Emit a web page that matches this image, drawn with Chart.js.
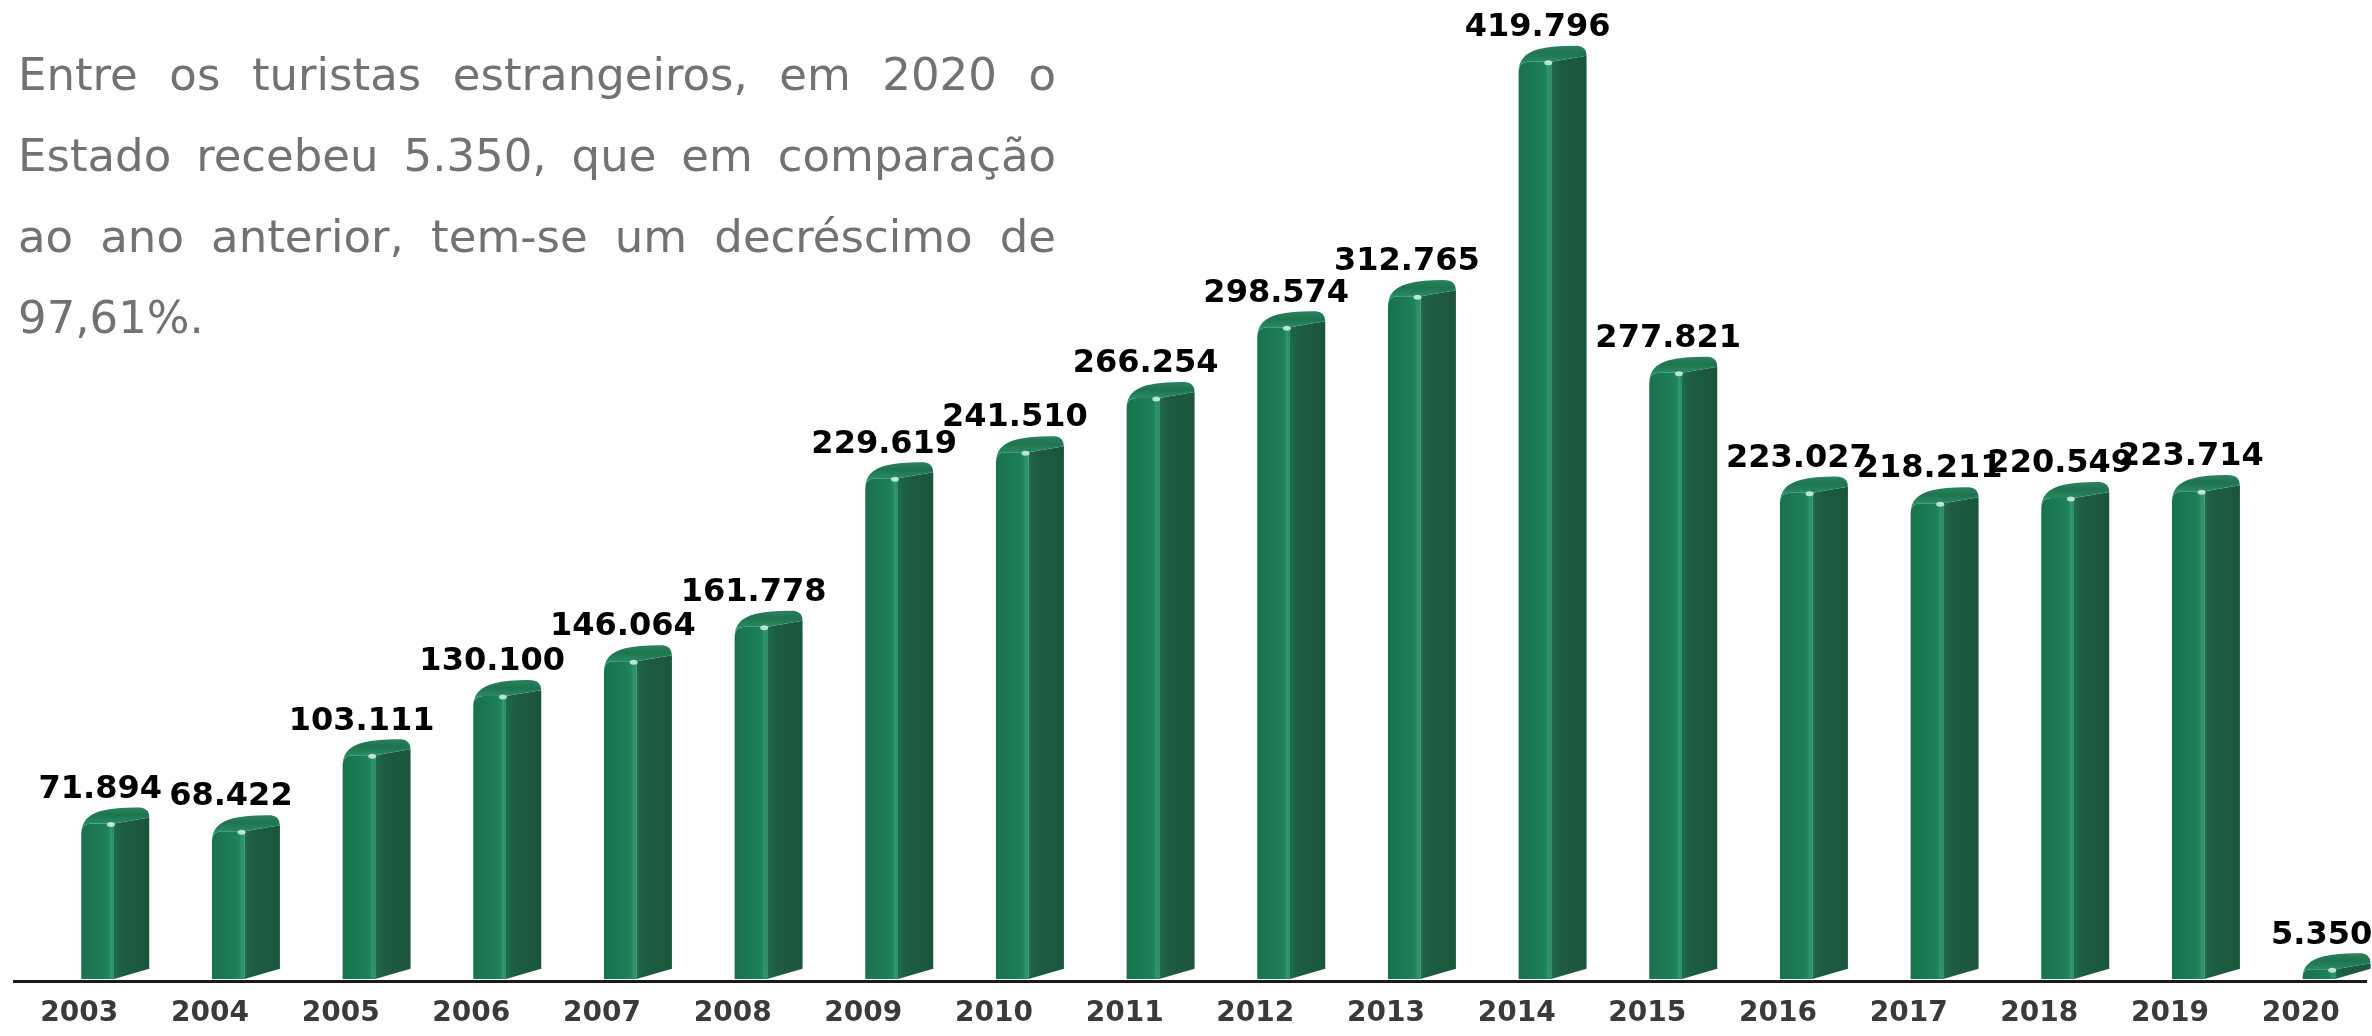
<!DOCTYPE html>
<html lang="pt-BR">
<head>
    <meta charset="UTF-8">
    <title>Turistas estrangeiros 2003-2020</title>
    <script src="https://cdn.jsdelivr.net/npm/chart.js"></script>
    <style>
        body {
            margin: 0;
            background: #fff;
            overflow: hidden;
        }
        .wrap {
            position: absolute;
            left: 0;
            top: 0;
            width: 2372px;
            height: 1036px;
        }
        .texto {
            position: absolute;
            left: 18px;
            top: 34px;
            width: 1038px;
            font-family: "DejaVu Sans", Verdana, sans-serif;
            font-size: 45px;
            line-height: 81px;
            color: #767171;
        }
        .texto .linha {
            text-align: justify;
            text-align-last: justify;
        }
        .texto .ultima {
            text-align-last: left;
        }
    </style>
</head>
<body>
    <div class="wrap">
        <canvas id="chart" width="2372" height="1036"></canvas>
        <div class="texto">
            <div class="linha">Entre os turistas estrangeiros, em 2020 o</div>
            <div class="linha">Estado recebeu 5.350, que em comparação</div>
            <div class="linha">ao ano anterior, tem-se um decréscimo de</div>
            <div class="linha ultima">97,61%.</div>
        </div>
    </div>

    <script>
        // dados
        const years = ['2003', '2004', '2005', '2006', '2007', '2008', '2009', '2010', '2011',
                       '2012', '2013', '2014', '2015', '2016', '2017', '2018', '2019', '2020'];
        const visitors = [71894, 68422, 103111, 130100, 146064, 161778, 229619, 241510, 266254,
                          298574, 312765, 419796, 277821, 223027, 218211, 220549, 223714, 5350];

        function fmt(n) {
            return String(n).replace(/\B(?=(\d{3})+(?!\d))/g, '.');
        }

        // draws a rounded "3D" column from the bar element geometry
        function draw3dBar(ctx, cx, top, bottom, w) {
            const L = cx - w / 2, R = cx + w / 2;
            const fw = w * 0.48;
            const F = L + fw;
            const d = w * 0.22;
            const db = w * 0.15;
            const r = Math.min(10, Math.max(3, (bottom - top) / 2 + 3));

            // side face
            let g = ctx.createLinearGradient(F, 0, R, 0);
            g.addColorStop(0, '#1f6a4a');
            g.addColorStop(0.25, '#1c5c41');
            g.addColorStop(1, '#1b553c');
            ctx.beginPath();
            ctx.moveTo(F, bottom);
            ctx.lineTo(R, bottom - db);
            ctx.lineTo(R, top - d + 9);
            ctx.lineTo(F, top);
            ctx.closePath();
            ctx.fillStyle = g;
            ctx.fill();

            // front face
            g = ctx.createLinearGradient(L, 0, F, 0);
            g.addColorStop(0, '#19714c');
            g.addColorStop(0.5, '#1b7a54');
            g.addColorStop(0.82, '#1f8259');
            g.addColorStop(0.93, '#2f9a6e');
            g.addColorStop(1, '#21805a');
            ctx.beginPath();
            ctx.moveTo(L, bottom);
            ctx.lineTo(L, top + r);
            ctx.quadraticCurveTo(L, top, L + r, top);
            ctx.lineTo(F, top);
            ctx.lineTo(F, bottom);
            ctx.closePath();
            ctx.fillStyle = g;
            ctx.fill();

            // top cap
            g = ctx.createLinearGradient(0, top + 2, 0, top - d - 2);
            g.addColorStop(0, '#2a9066');
            g.addColorStop(0.55, '#1e7450');
            g.addColorStop(1, '#2f8460');
            ctx.beginPath();
            ctx.moveTo(L, top + r);
            ctx.quadraticCurveTo(L, top - d * 0.5, L + w * 0.3, top - d * 0.85);
            ctx.quadraticCurveTo(L + w * 0.55, top - d * 1.1, R - 9, top - d - 1);
            ctx.quadraticCurveTo(R, top - d, R, top - d + 9);
            ctx.lineTo(F, top);
            ctx.lineTo(L + r, top);
            ctx.quadraticCurveTo(L, top, L, top + r);
            ctx.closePath();
            ctx.fillStyle = g;
            ctx.fill();

            // small specular spot
            ctx.beginPath();
            ctx.ellipse(F - 3, top + 1, 4, 2.5, 0, 0, Math.PI * 2);
            ctx.fillStyle = 'rgba(235,255,245,0.75)';
            ctx.fill();
        }

        const bar3d = {
            id: 'bar3d',
            afterDatasetsDraw(chart) {
                const ctx = chart.ctx;
                const meta = chart.getDatasetMeta(0);
                const step = chart.scales.x.width / years.length;
                const shift = step * 0.275;
                ctx.save();
                meta.data.forEach((bar, i) => {
                    const p = bar.getProps(['x', 'y', 'base', 'width'], true);
                    draw3dBar(ctx, p.x + shift, p.y, p.base - 2, p.width);

                    ctx.font = 'bold 32px "DejaVu Sans", Verdana, sans-serif';
                    ctx.fillStyle = '#000';
                    ctx.textAlign = 'center';
                    ctx.textBaseline = 'middle';
                    ctx.fillText(fmt(visitors[i]), p.x + step * 0.16, p.y - 34);
                });
                ctx.restore();
            }
        };

        new Chart(document.getElementById('chart'), {
            type: 'bar',
            data: {
                labels: years,
                datasets: [{
                    data: visitors,
                    backgroundColor: 'rgba(0,0,0,0)',
                    borderWidth: 0,
                    barPercentage: 0.52,
                    categoryPercentage: 1
                }]
            },
            options: {
                responsive: false,
                animation: false,
                layout: {
                    padding: { left: 14, right: 6, top: 0, bottom: 0 }
                },
                plugins: {
                    legend: { display: false },
                    tooltip: { enabled: false }
                },
                scales: {
                    x: {
                        grid: { display: false, drawTicks: false },
                        border: { display: true, color: '#1a1a1a', width: 3 },
                        ticks: {
                            padding: 16,
                            maxRotation: 0,
                            color: '#3a3a3a',
                            font: { family: '"DejaVu Sans", Verdana, sans-serif', size: 28, weight: 'bold' }
                        },
                        afterFit(axis) {
                            axis.height = 55;
                        }
                    },
                    y: {
                        display: false,
                        min: 0,
                        max: 448000
                    }
                }
            },
            plugins: [bar3d]
        });
    </script>
</body>
</html>
